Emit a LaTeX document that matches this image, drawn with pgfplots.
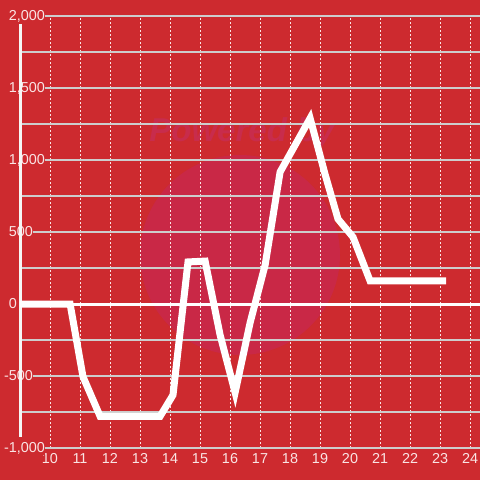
\documentclass[border=0pt]{standalone}
\usepackage{pgfplots}
\pgfplotsset{compat=1.18}
\usepackage{fontspec}
\setmainfont{Liberation Sans}
\definecolor{bg}{RGB}{205,42,47}
\definecolor{wm}{RGB}{201,40,70}
\definecolor{wmtext}{RGB}{200,44,76}
\definecolor{lbl}{RGB}{250,228,228}
\definecolor{gridc}{RGB}{205,205,205}
\begin{document}
\begin{tikzpicture}[x=1pt,y=1pt]
\useasboundingbox (0,0) rectangle (480,480);
\fill[bg] (0,0) rectangle (480,480);
\fill[wm] (240,225) circle (100);
\node[text=wmtext, font=\fontsize{33}{35}\selectfont\bfseries\itshape, inner sep=0pt] at (242,347) {Powered by};
\begin{axis}[
  at={(20pt,32pt)}, anchor=south west, scale only axis,
  width=460pt, height=432pt,
  xmin=9, xmax=24.333, ymin=-1000, ymax=2000,
  axis line style={draw=none},
  xtick={10,...,24}, ytick={-1000,-500,...,2000},
  yticklabels={{\llap{-}1,000},{\llap{-}500},0,500,{1,000},{1,500},{2,000}},
  minor ytick={-750,-250,250,750,1250,1750},
  major tick length=0pt, minor tick length=0pt,
  xmajorgrids, ymajorgrids, yminorgrids,
  x grid style={lbl, line width=0.9pt, dash pattern=on 2pt off 2pt},
  y grid style={gridc, line width=1.3pt},
  tick label style={text=lbl, font=\fontsize{14.4}{16}\selectfont},
  /pgf/number format/assume math mode=true,
  /pgf/number format/1000 sep={,},
  yticklabel style={anchor=west, xshift=-12pt, fill=bg, inner sep=0.6pt},
  xticklabel style={yshift=-2pt},
  clip=false,
]
\draw[white!93!gray, line width=3pt] (axis cs:9.03,-925) -- (axis cs:9.03,1945);
\draw[white, line width=3pt] (axis cs:9,0) -- (axis cs:24.333,0);
\addplot[white, line width=7pt, mark=none] coordinates {
(9,0)(10.67,0)(11.1,-505)(11.67,-780)(13.67,-780)(14.1,-632)(14.6,292)(15.17,298)(15.67,-215)(16.17,-615)(16.67,-130)(17.17,270)(17.67,917)(18.67,1290)(19.17,900)(19.6,590)(20.1,465)(20.67,160)(23.2,160)
};
\end{axis}
\end{tikzpicture}
\end{document}
